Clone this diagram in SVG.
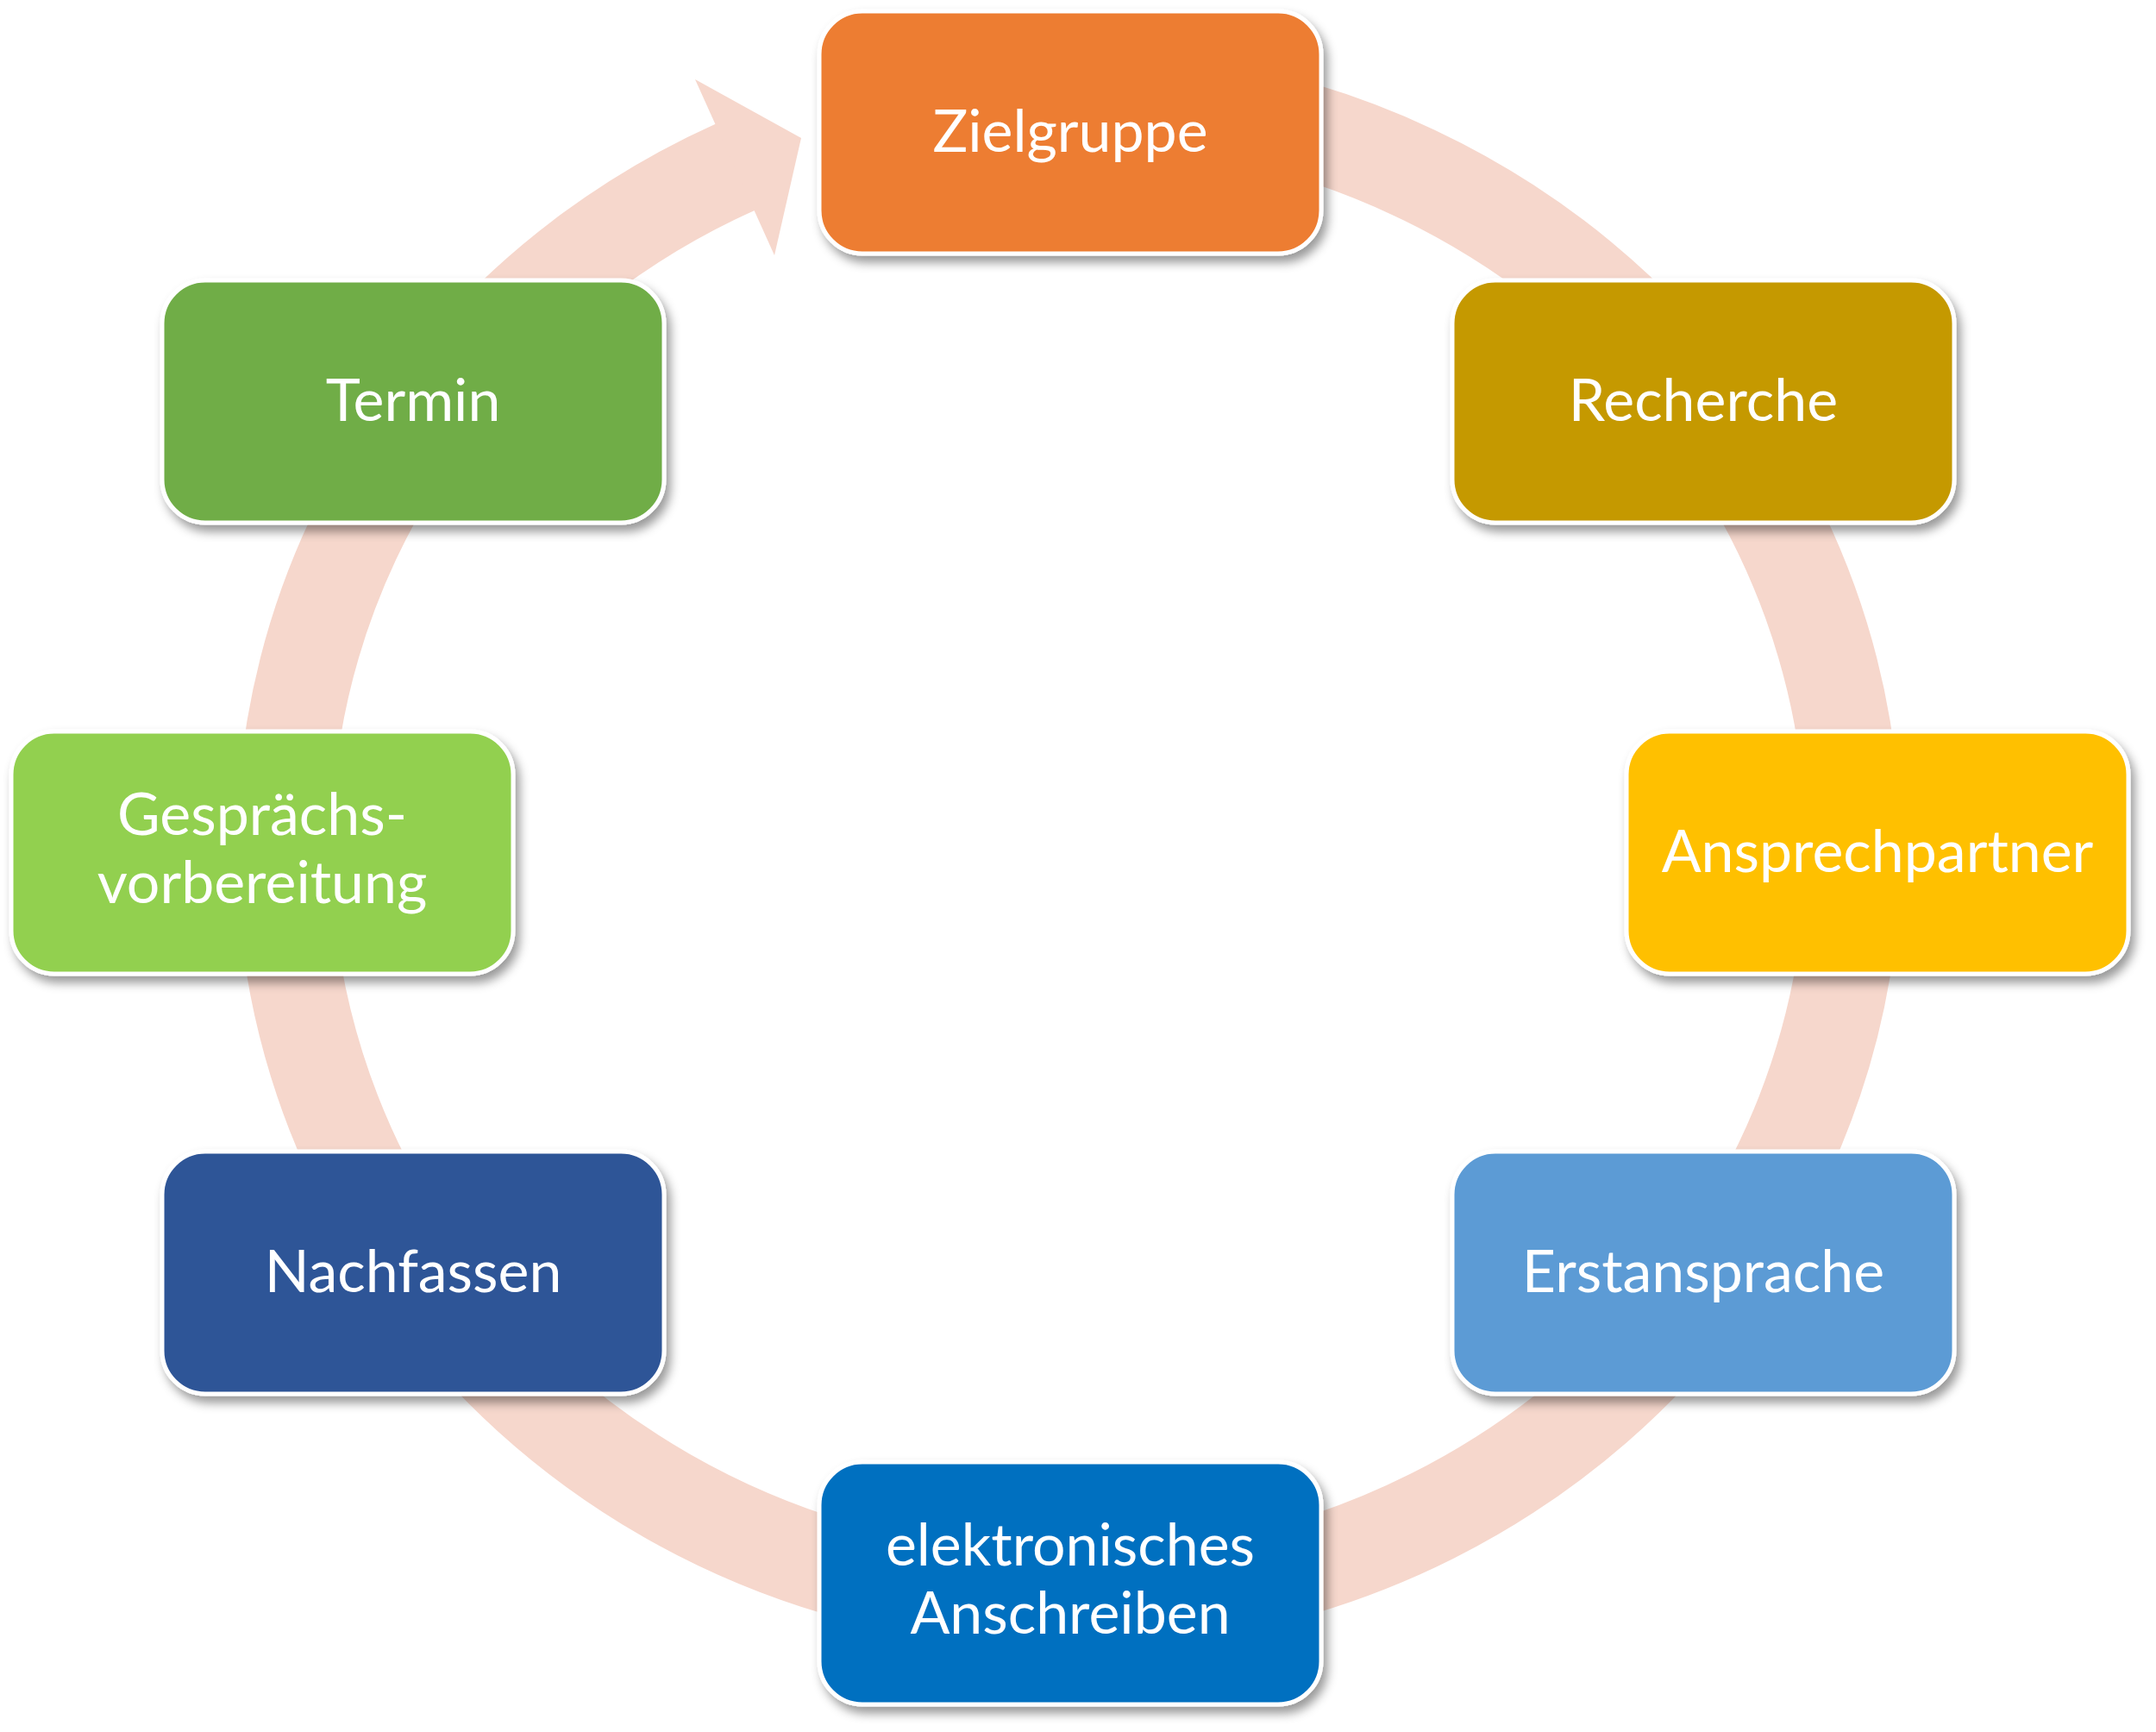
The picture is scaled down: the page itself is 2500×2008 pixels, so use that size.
<svg xmlns="http://www.w3.org/2000/svg" width="2500" height="2008" viewBox="0 0 2500 2008">
<defs>
<style>
.box{stroke:#ffffff;stroke-width:5}
.lbl{font-family:Lato,"Open Sans",sans-serif;font-size:68px;fill:#ffffff;text-anchor:middle}
.ring{fill:none;stroke:#F6D7CC;stroke-width:110}
.head{fill:#F6D7CC}
</style>
<filter id="sh" x="-10%" y="-10%" width="125%" height="135%">
<feDropShadow dx="5" dy="8" stdDeviation="6" flood-color="#000000" flood-opacity="0.4"/>
</filter>
</defs>
<rect x="0" y="0" width="2500" height="2008" fill="#ffffff"/>
<g id="connectors">
<path class="ring" d="M 1239 111 A 910 873 0 1 1 854.7 192.7"/>
<polygon class="head" points="806,92 929,160 898,296"/>
</g>
<g id="node-zielgruppe" filter="url(#sh)">
<rect class="box" x="950" y="13" width="582" height="281" rx="50" fill="#ED7D31"/>
<text class="lbl" x="1241" y="176">Zielgruppe</text>
</g>
<g id="node-recherche" filter="url(#sh)">
<rect class="box" x="1684" y="325" width="582" height="281" rx="50" fill="#C59900"/>
<text class="lbl" x="1975" y="488">Recherche</text>
</g>
<g id="node-ansprechpartner" filter="url(#sh)">
<rect class="box" x="1886" y="848" width="582" height="281" rx="50" fill="#FFC000"/>
<text class="lbl" x="2177" y="1011">Ansprechpartner</text>
</g>
<g id="node-erstansprache" filter="url(#sh)">
<rect class="box" x="1684" y="1335" width="582" height="281" rx="50" fill="#5B9BD5"/>
<text class="lbl" x="1975" y="1498">Erstansprache</text>
</g>
<g id="node-anschreiben" filter="url(#sh)">
<rect class="box" x="950" y="1695" width="582" height="281" rx="50" fill="#0070C0"/>
<text class="lbl" x="1241" y="1815">elektronisches</text>
<text class="lbl" x="1241" y="1894">Anschreiben</text>
</g>
<g id="node-nachfassen" filter="url(#sh)">
<rect class="box" x="188" y="1335" width="582" height="281" rx="50" fill="#2F5597"/>
<text class="lbl" x="479" y="1498">Nachfassen</text>
</g>
<g id="node-gespraechsvorbereitung" filter="url(#sh)">
<rect class="box" x="13" y="848" width="582" height="281" rx="50" fill="#92D050"/>
<text class="lbl" x="304" y="968">Gesprächs-</text>
<text class="lbl" x="304" y="1047">vorbereitung</text>
</g>
<g id="node-termin" filter="url(#sh)">
<rect class="box" x="188" y="325" width="582" height="281" rx="50" fill="#70AD47"/>
<text class="lbl" x="479" y="488">Termin</text>
</g>
</svg>
